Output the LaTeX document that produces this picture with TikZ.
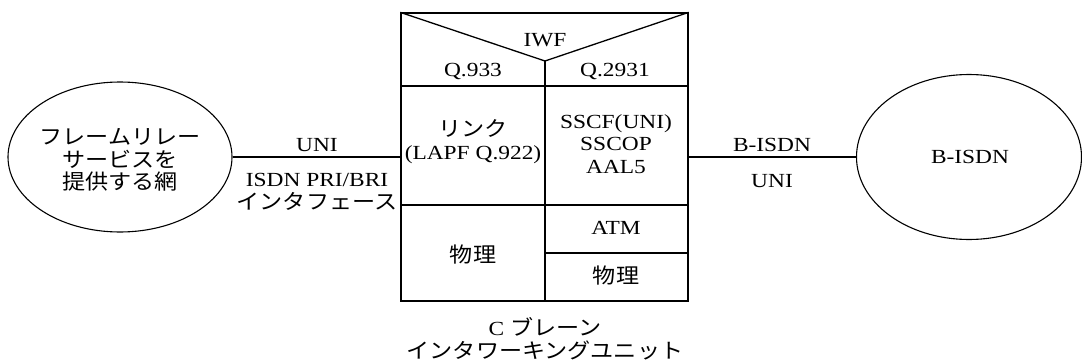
\documentclass[tikz,border=0pt]{standalone}
\usepackage{fontspec}
\setmainfont{Liberation Serif}[FakeStretch=1.17]
\newfontfamily\jp{Noto Sans CJK JP}[FakeStretch=1.1]
\usetikzlibrary{shapes.geometric}
\begin{document}
\begin{tikzpicture}[x=1pt,y=-1pt,line width=1.3pt,
  lbl/.style={font=\fontsize{20}{22.5}\selectfont, align=center, inner sep=0pt},
  jlbl/.style={font=\fontsize{21}{22.5}\selectfont\jp, align=center, inner sep=0pt},
  net/.style={draw, ellipse, inner sep=0pt, line width=1.1pt},
  wire/.style={line width=1.1pt}]
\useasboundingbox (0,0) rectangle (1082,361);
% networks
\node[net, minimum width=224pt, minimum height=150pt] (fr) at (120,157) {};
\node[jlbl] (frt) at (120,160) {フレームリレー\\サービスを\\提供する網};
\node[net, minimum width=225pt, minimum height=165pt] (bn) at (969,157) {};
\node[lbl] (bnt) at (970,157) {B-ISDN};
% IWF box
\node[draw, minimum width=287pt, minimum height=288pt, inner sep=0pt] (iwf) at (544.5,157) {};
\coordinate (v) at (545,61);
\draw (iwf.north west) -- (v) -- (iwf.north east);
\draw (401,86) -- (688,86);
\draw (v) -- (545,301);
\draw (401,205) -- (688,205);
\draw (545,253) -- (688,253);
\node[lbl] (iwft) at (545,40) {IWF};
\node[lbl] (q933) at (473,72) {Q.933};
\node[lbl] (q2931) at (615,72) {Q.2931};
\node[jlbl] (link) at (473,128) {リンク};
\node[lbl] (lapf) at (473,155) {(LAPF Q.922)};
\node[lbl] (sscf) at (616,144) {SSCF(UNI)\\SSCOP\\AAL5};
\node[jlbl] (phy1) at (473,255) {物理};
\node[lbl] (atm) at (616,228) {ATM};
\node[jlbl] (phy2) at (616,276) {物理};
\node[lbl] (capc) at (545,327) {C {\jp\fontsize{21}{22.5}\selectfont ブレーン}};
\node[jlbl] (capj) at (545,350) {インタワーキングユニット};
% connectors
\draw[wire] (fr.east) -- (iwf.west);
\draw[wire] (iwf.east) -- (bn.west);
\node[lbl] (uni1) at (317,145) {UNI};
\node[lbl] (isdn) at (317,180) {ISDN PRI/BRI};
\node[jlbl] (intf) at (317,201) {インタフェース};
\node[lbl] (bisdn) at (772,145) {B-ISDN};
\node[lbl] (uni2) at (772,181) {UNI};
\end{tikzpicture}
\end{document}
